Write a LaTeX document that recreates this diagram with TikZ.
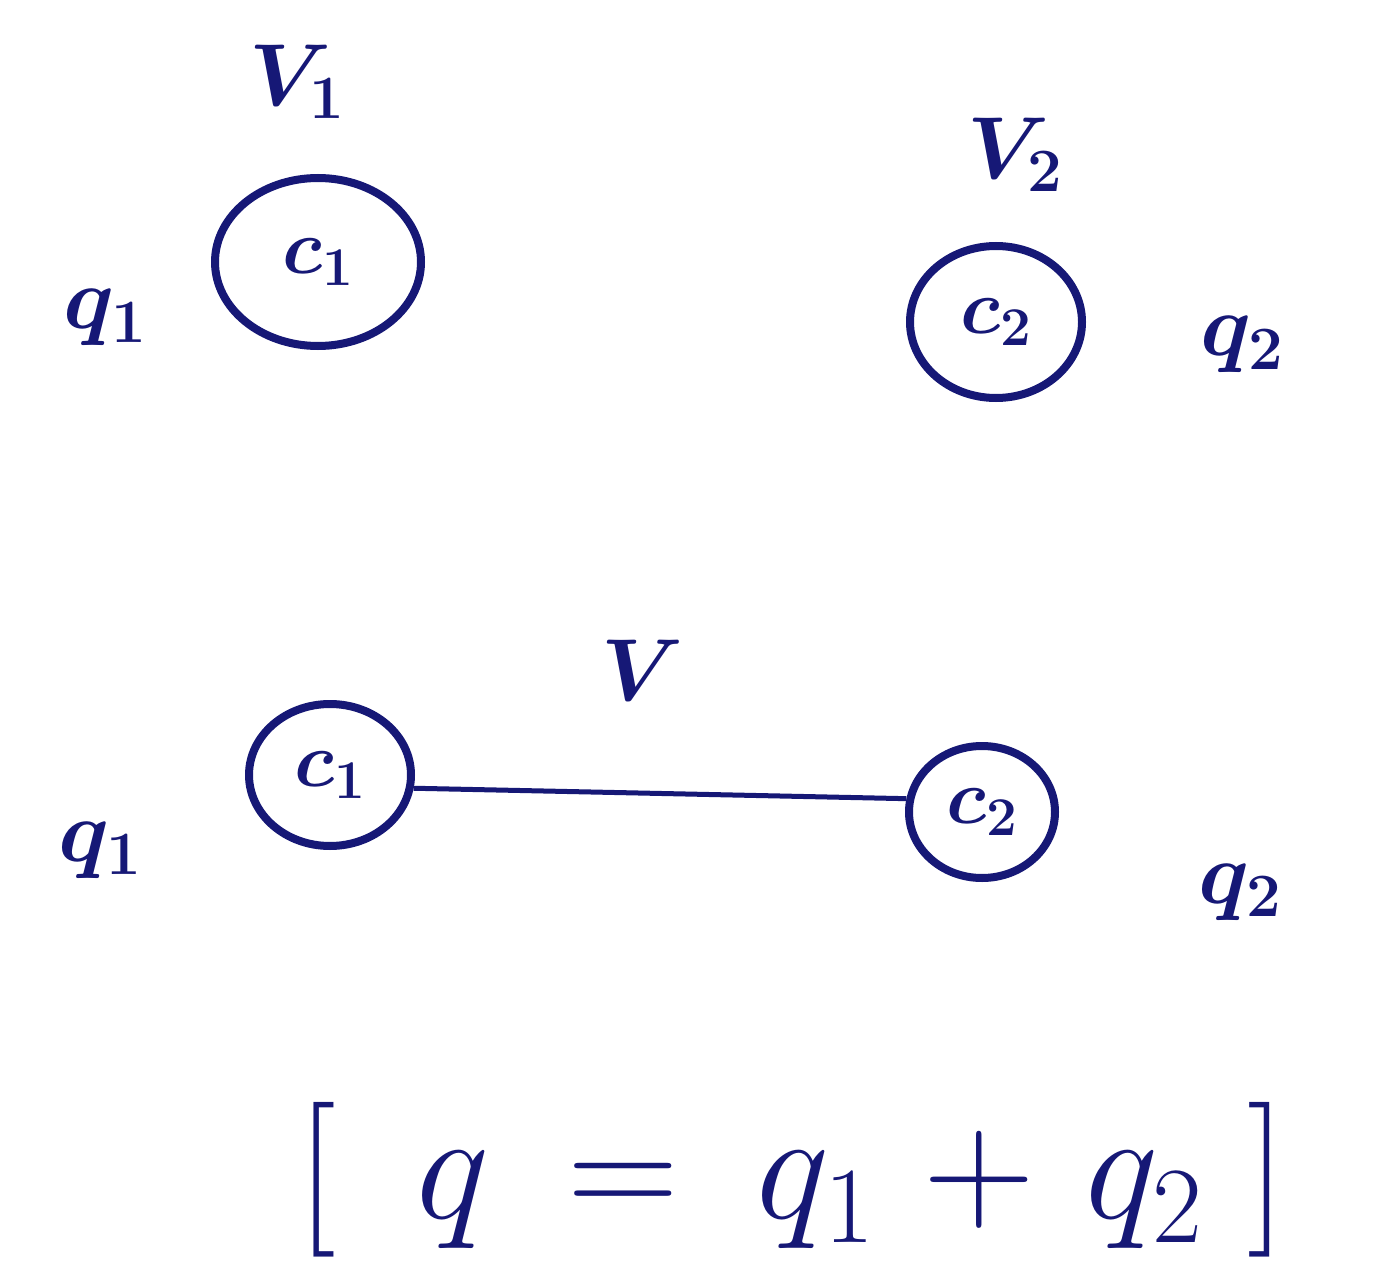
\RequirePackage{fix-cm}
\documentclass[tikz,border=0pt]{standalone}
\usetikzlibrary{shapes.geometric}
\definecolor{ink}{RGB}{22,24,118}
\begin{document}
\begin{tikzpicture}[x=1pt,y=-1pt,
  charge/.style={ellipse,draw=ink,line width=8pt,inner sep=0pt,text=ink,font=\fontsize{78}{86}\selectfont\boldmath},
  lbl/.style={text=ink,font=\fontsize{88}{96}\selectfont\boldmath},
  wire/.style={draw=ink,line width=5pt}]
\fill[white] (0,0) rectangle (1385,1281);
\useasboundingbox (0,0) rectangle (1385,1281);
% top: separate conductors
\node[charge,minimum width=206pt,minimum height=168pt] (c1a) at (318,262) {$c_1$};
\node[charge,minimum width=172pt,minimum height=152pt] (c2a) at (996,322) {$c_2$};
\node[lbl] (v1) at (297,82) {$V_1$};
\node[lbl] (v2) at (1015,155) {$V_2$};
\node[lbl] (q1a) at (105,318) {$q_1$};
\node[lbl] (q2a) at (1242,345) {$q_2$};
% bottom: connected conductors
\node[charge,minimum width=162pt,minimum height=142pt] (c1b) at (330,775) {$c_1$};
\node[charge,minimum width=146pt,minimum height=132pt] (c2b) at (982,812) {$c_2$};
\draw[wire] (c1b.-9) -- (c2b.170);
\node[lbl] (v) at (643,670) {$V$};
\node[lbl] (q1b) at (100,850) {$q_1$};
\node[lbl] (q2b) at (1240,892) {$q_2$};
% relation
\node[text=ink,font=\fontsize{155}{165}\selectfont] (rel) at (792,1180)
  {$[\hspace{80pt}q\hspace{35pt}=\hspace{35pt}q_1\hspace{15pt}+\hspace{15pt}q_2\hspace{45pt}]$};
\end{tikzpicture}
\end{document}
